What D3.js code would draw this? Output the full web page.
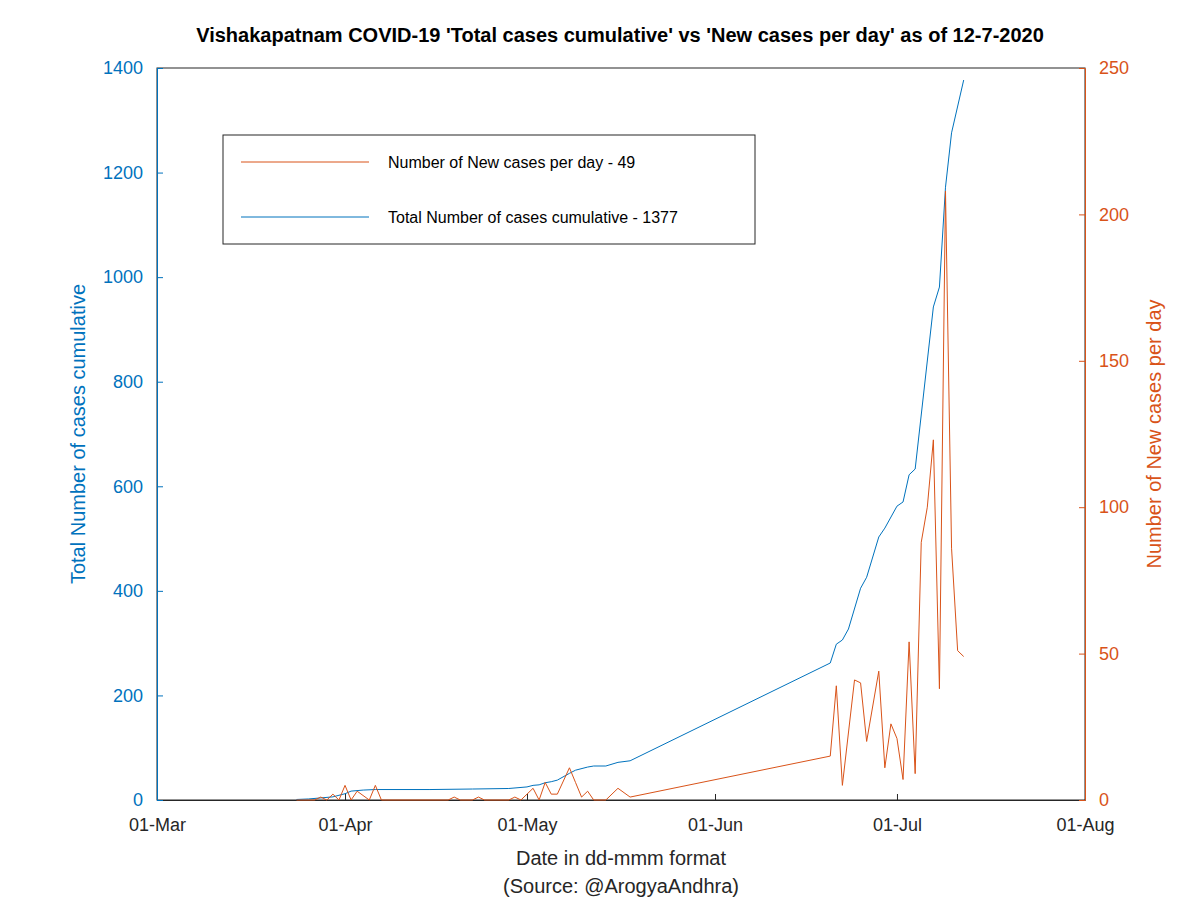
<!DOCTYPE html>
<html lang="en">
<head>
<meta charset="UTF-8">
<title>Vishakapatnam COVID-19</title>
<style>
  body { margin: 0; background: #fff; }
  svg text { font-family: "Liberation Sans", Arial, sans-serif; }
</style>
</head>
<body>
<div id="chart"></div>
<script src="https://d3js.org/d3.v7.min.js"></script>
<script>
// day index counted from 01-Mar-2020
const totalDays = [23,25,27,29,30,31,32,34,36,45,52,58,61,62,63,64,65,66,68,69,71,72,74,76,78,
                   111,112,113,114,116,117,119,120,122,123,124,125,128,129,130,131,133];
const totalCases = [1,2,4,6,9,12,17,19,20,20,21,22,25,28,29,33,35,38,51,57,63,65,65,72,75,
                    262,298,306,327,405,426,503,520,562,570,622,633,943,981,1172,1276,1377];
const newDays = [23,26,27,28,29,30,31,32,33,35,36,37,48,49,50,52,53,54,58,59,60,61,62,63,64,65,66,68,69,70,71,72,74,76,78,
                 111,112,113,115,116,117,119,120,121,122,123,124,125,126,127,128,129,130,131,132,133];
const newCases = [0,0,1,0,2,0,5,0,3,0,5,0,0,1,0,0,1,0,0,1,0,2,4,0,6,2,2,11,6,1,3,0,0,4,1,
                  15,39,5,41,40,20,44,11,26,21,7,54,9,88,100,123,38,208,86,51,49];
const tickDates = ["01-Mar","01-Apr","01-May","01-Jun","01-Jul","01-Aug"];
const tickDays = [0,31,61,92,122,153];
const legendLabels = ["Number of New cases per day - 49", "Total Number of cases cumulative - 1377"];

const W = 1200, H = 900;
const m = { left: 157, right: 115, top: 68, bottom: 100 };
const blue = "#0072BD", red = "#D95319";

const svg = d3.select("#chart").append("svg").attr("width", W).attr("height", H);

const x = d3.scaleLinear().domain([0, 153]).range([m.left, W - m.right]);
const yL = d3.scaleLinear().domain([0, 1400]).range([H - m.bottom, m.top]);
const yR = d3.scaleLinear().domain([0, 250]).range([H - m.bottom, m.top]);

// frame
svg.append("rect").attr("x", m.left).attr("y", m.top)
  .attr("width", W - m.right - m.left).attr("height", H - m.bottom - m.top)
  .attr("fill", "none").attr("stroke", "#262626");

const xAxis = svg.append("g").attr("transform", "translate(0," + (H - m.bottom) + ")")
  .call(d3.axisBottom(x).tickValues(tickDays).tickFormat((d, i) => tickDates[i]).tickSizeInner(-6).tickSizeOuter(0).tickPadding(18));
xAxis.selectAll("text").attr("font-size", 18).attr("fill", "#262626");
xAxis.selectAll("line,path").attr("stroke", "#262626");

const yAxisL = svg.append("g").attr("transform", "translate(" + m.left + ",0)")
  .call(d3.axisLeft(yL).tickValues(d3.range(0, 1401, 200)).tickFormat(d3.format("d")).tickSizeInner(-6).tickSizeOuter(0).tickPadding(14));
yAxisL.selectAll("text").attr("font-size", 18).attr("fill", blue);
yAxisL.selectAll("line,path").attr("stroke", blue);

const yAxisR = svg.append("g").attr("transform", "translate(" + (W - m.right) + ",0)")
  .call(d3.axisRight(yR).tickValues(d3.range(0, 251, 50)).tickSizeInner(-6).tickSizeOuter(0).tickPadding(14));
yAxisR.selectAll("text").attr("font-size", 18).attr("fill", red);
yAxisR.selectAll("line,path").attr("stroke", red);

// lines
const lineL = d3.line().x(d => x(d[0])).y(d => yL(d[1]));
const lineR = d3.line().x(d => x(d[0])).y(d => yR(d[1]));
svg.append("path").datum(d3.zip(totalDays, totalCases)).attr("d", lineL)
  .attr("fill", "none").attr("stroke", blue).attr("stroke-width", 1);
svg.append("path").datum(d3.zip(newDays, newCases)).attr("d", lineR)
  .attr("fill", "none").attr("stroke", red).attr("stroke-width", 1);

// title and labels
svg.append("text").attr("x", 620).attr("y", 42).attr("text-anchor", "middle")
  .attr("font-size", 20).attr("font-weight", "bold").attr("fill", "#000")
  .text("Vishakapatnam COVID-19 'Total cases cumulative' vs 'New cases per day' as of 12-7-2020");
svg.append("text").attr("x", 621).attr("y", 865).attr("text-anchor", "middle")
  .attr("font-size", 20).attr("fill", "#262626").text("Date in dd-mmm format");
svg.append("text").attr("x", 621).attr("y", 893).attr("text-anchor", "middle")
  .attr("font-size", 20).attr("fill", "#262626").text("(Source: @ArogyaAndhra)");
svg.append("text").attr("transform", "translate(85,434) rotate(-90)").attr("text-anchor", "middle")
  .attr("font-size", 20).attr("fill", blue).text("Total Number of cases cumulative");
svg.append("text").attr("transform", "translate(1161,434) rotate(-90)").attr("text-anchor", "middle")
  .attr("font-size", 20).attr("fill", red).text("Number of New cases per day");

// legend
const lg = svg.append("g").attr("transform", "translate(223,135)");
lg.append("rect").attr("width", 532).attr("height", 109).attr("fill", "#fff").attr("stroke", "#262626");
[red, blue].forEach((c, i) => {
  const yy = 27 + i * 55;
  lg.append("line").attr("x1", 18).attr("x2", 146).attr("y1", yy).attr("y2", yy).attr("stroke", c);
  lg.append("text").attr("x", 165).attr("y", yy + 6).attr("font-size", 16).attr("fill", "#000").text(legendLabels[i]);
});
</script>
</body>
</html>
